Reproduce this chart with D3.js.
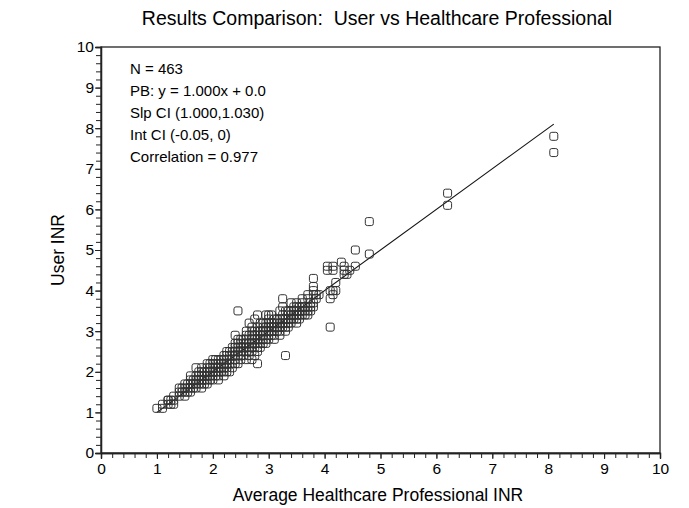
<!DOCTYPE html>
<html><head><meta charset="utf-8">
<script src="https://cdn.jsdelivr.net/npm/d3@7"></script>
<style>
html,body{margin:0;padding:0;background:#fff;}
text{font-family:"Liberation Sans",Arial,Helvetica,sans-serif;fill:#000;}
</style></head>
<body>
<svg id="chart" width="689" height="508"></svg>
<script>
const title = "Results Comparison:  User vs Healthcare Professional";
const xLabel = "Average Healthcare Professional INR";
const yLabel = "User INR";
const statLines = ["N = 463", "PB: y = 1.000x + 0.0", "Slp CI (1.000,1.030)", "Int CI (-0.05, 0)", "Correlation = 0.977"];
const tickValues = [0,1,2,3,4,5,6,7,8,9,10];
const fitSlope = 1.000, fitIntercept = 0.0;
const fitRange = [1.0, 8.1];

// Healthcare professional INR (x) and the user INR values observed at each
const hcpINR = [1.0,1.1,1.2,1.25,1.3,1.4,1.45,1.5,1.55,1.6,1.65,1.7,1.75,1.8,1.85,1.9,1.95,2.0,2.05,2.1,2.15,2.2,2.25,2.3,2.35,2.4,2.45,2.5,2.55,2.6,2.65,2.7,2.75,2.8,2.85,2.9,2.95,3.0,3.05,3.1,3.15,3.2,3.25,3.3,3.35,3.4,3.45,3.5,3.55,3.6,3.65,3.7,3.75,3.8,3.85,3.9,4.05,4.1,4.15,4.2,4.3,4.35,4.4,4.45,4.55,4.8,6.2,8.1];
const userINR = [
 [1.1],[1.1,1.2],[1.2,1.3,1.3],[1.2,1.3],[1.2,1.3,1.4],[1.4,1.5,1.6],[1.5,1.6],[1.4,1.5,1.6,1.7],[1.5,1.6,1.7],
 [1.5,1.6,1.7,1.8,1.9],[1.6,1.7,1.8],[1.6,1.7,1.8,1.9,2.1],[1.7,1.8,1.9,2.0],[1.6,1.7,1.8,1.9,2.0,2.1],[1.7,1.8,1.9,2.0],
 [1.7,1.8,1.9,2.0,2.1,2.2],[1.8,1.9,2.0,2.1,2.2],[1.8,1.9,2.0,2.1,2.2,2.3],[1.9,2.0,2.1,2.2,2.3],[1.8,1.9,2.0,2.1,2.2,2.3],
 [2.0,2.1,2.2,2.3],[1.9,2.0,2.1,2.2,2.3,2.4],[2.0,2.1,2.2,2.3,2.4,2.5],[2.0,2.2,2.3,2.4,2.5],[2.1,2.2,2.4,2.5,2.6],
 [2.2,2.3,2.4,2.5,2.6,2.7,2.9],[2.2,2.4,2.5,2.6,2.7,2.8,3.5],[2.3,2.4,2.5,2.6,2.7,2.8],[2.4,2.5,2.6,2.7,2.8],
 [2.3,2.5,2.6,2.7,2.8,2.9,3.0],[2.4,2.5,2.6,2.7,2.9,3.2],[2.3,2.5,2.6,2.7,2.8,2.9,3.0,3.1],[2.4,2.6,2.7,2.8,2.9,3.0,3.3],
 [2.2,2.5,2.6,2.7,2.8,2.9,3.0,3.1,3.4],[2.6,2.7,2.8,2.9,3.0,3.2],[2.7,2.8,2.9,3.0,3.1,3.2],[2.7,2.8,3.0,3.1,3.2,3.4],
 [2.8,2.9,3.0,3.1,3.2,3.3,3.4],[2.9,3.0,3.1,3.2,3.4],[2.8,2.9,3.0,3.1,3.2,3.3],[3.0,3.1,3.2,3.3],[2.9,3.0,3.1,3.2,3.3,3.5],
 [3.1,3.2,3.3,3.4,3.6,3.8],[2.4,3.0,3.1,3.2,3.3,3.5],[3.1,3.2,3.3,3.4,3.5],[3.2,3.3,3.4,3.5,3.7],[3.3,3.4,3.5,3.6],
 [3.2,3.3,3.4,3.5,3.6,3.7],[3.3,3.4,3.5,3.6],[3.4,3.5,3.6,3.7,3.8],[3.4,3.5,3.6],[3.4,3.5,3.6,3.8,3.9],[3.5,3.6,3.7],
 [3.6,3.7,3.9,4.0,4.1,4.3],[3.8,3.9],[3.9],[4.5,4.6],[3.1,3.8,4.0],[3.9,4.0,4.5,4.6],[4.0,4.2],[4.7],[4.4,4.5,4.6],[4.4],[4.5],
 [4.6,5.0],[4.9,5.7],[6.1,6.4],[7.4,7.8]
];

const svg = d3.select("#chart");
const m = {left:101, right:29, top:47, bottom:55};
const W = 689, H = 508;
const x = d3.scaleLinear().domain([0,10]).range([m.left, W - m.right]);
const y = d3.scaleLinear().domain([0,10]).range([H - m.bottom, m.top]);

const points = [];
hcpINR.forEach((hx, i) => userINR[i].forEach(uy => points.push([hx, uy])));

// frame
svg.append("rect").attr("x", x(0)).attr("y", y(10)).attr("width", x(10)-x(0)).attr("height", y(0)-y(10))
  .attr("fill","none").attr("stroke","#222").attr("stroke-width",1.3);

const minorTicks = d3.range(0, 10.001, 0.2);
// x axis
const gx = svg.append("g").attr("transform", `translate(0,${y(0)})`);
gx.call(d3.axisBottom(x).tickValues(minorTicks).tickSize(5).tickFormat(""));
gx.append("g").call(d3.axisBottom(x).tickValues(tickValues).tickSize(6).tickPadding(4).tickFormat(d3.format("d")));
gx.selectAll(".domain").attr("stroke","#222").attr("stroke-width",1.3);
gx.selectAll(".tick line").attr("stroke","#222");
gx.selectAll("text").style("font-size","15.5px").attr("fill","#000");

// y axis
const gy = svg.append("g").attr("transform", `translate(${x(0)},0)`);
gy.call(d3.axisLeft(y).tickValues(minorTicks).tickSize(5).tickFormat(""));
gy.append("g").call(d3.axisLeft(y).tickValues(tickValues).tickSize(6).tickPadding(1).tickFormat(d3.format("d")));
gy.selectAll(".domain").attr("stroke","#222").attr("stroke-width",1.3);
gy.selectAll(".tick line").attr("stroke","#222");
gy.selectAll("text").style("font-size","15.5px").attr("fill","#000");

// fit line
svg.append("line")
  .attr("x1", x(fitRange[0])).attr("y1", y(fitSlope*fitRange[0]+fitIntercept))
  .attr("x2", x(fitRange[1])).attr("y2", y(fitSlope*fitRange[1]+fitIntercept))
  .attr("stroke","#111").attr("stroke-width",1.1);

// points
const s = 8;
svg.append("g").selectAll("rect").data(points).join("rect")
  .attr("x", d => x(d[0]) - s/2).attr("y", d => y(d[1]) - s/2)
  .attr("width", s).attr("height", s).attr("rx", 2)
  .attr("fill","none").attr("stroke","#333").attr("stroke-width",1);

// stats text
svg.append("g").selectAll("text").data(statLines).join("text")
  .attr("x", 130).attr("y", (d,i) => 74 + i*22)
  .style("font-size","15px").text(d => d);

// title and labels
svg.append("text").attr("x", 377).attr("y", 25).attr("text-anchor","middle")
  .style("font-size","19.5px").style("white-space","pre").text(title);
svg.append("text").attr("x", 378).attr("y", 501).attr("text-anchor","middle")
  .style("font-size","17.5px").text(xLabel);
svg.append("text").attr("transform", `translate(64,${(y(0)+y(10))/2}) rotate(-90)`).attr("text-anchor","middle")
  .style("font-size","17.5px").text(yLabel);
</script>
</body></html>
